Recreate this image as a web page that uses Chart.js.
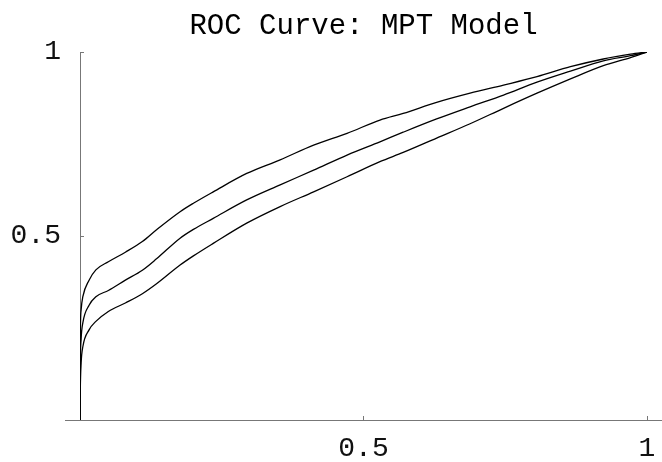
<!DOCTYPE html>
<html>
<head>
<meta charset="utf-8">
<script src="https://cdn.jsdelivr.net/npm/chart.js@4"></script>
<style>
  html, body { margin: 0; padding: 0; background: #fff; }
  canvas { display: block; }
</style>
</head>
<body>
<canvas id="c" width="662" height="462"></canvas>
<script>
// ---- data ----
const titleText = "ROC Curve: MPT Model";
const fpr = [0, 0.0005, 0.002, 0.005, 0.016, 0.028, 0.05, 0.08, 0.11, 0.135, 0.1765, 0.2, 0.235, 0.294, 0.353, 0.412, 0.471, 0.529, 0.570, 0.629, 0.688, 0.747, 0.806, 0.865, 0.923, 0.971, 1];
const tprUpper = [0, 0.22, 0.30, 0.335, 0.380, 0.408, 0.430, 0.456, 0.485, 0.517, 0.566, 0.589, 0.620, 0.670, 0.707, 0.747, 0.779, 0.815, 0.833, 0.863, 0.888, 0.910, 0.933, 0.960, 0.981, 0.994, 1];
const tprMiddle = [0, 0.14, 0.22, 0.264, 0.312, 0.335, 0.352, 0.380, 0.407, 0.438, 0.494, 0.518, 0.548, 0.598, 0.639, 0.679, 0.720, 0.756, 0.782, 0.818, 0.851, 0.883, 0.918, 0.948, 0.976, 0.990, 1];
const tprLower = [0, 0.08, 0.155, 0.199, 0.245, 0.268, 0.295, 0.318, 0.343, 0.370, 0.421, 0.446, 0.480, 0.535, 0.580, 0.620, 0.661, 0.702, 0.727, 0.766, 0.805, 0.847, 0.888, 0.927, 0.963, 0.985, 1];
const xTicks = [0.5, 1];
const yTicks = [0.5, 1];

const toPts = (ys) => fpr.map((x, i) => ({ x: x, y: ys[i] }));

const FONT = "'Liberation Mono', 'Courier New', monospace";
const AXIS_COLOR = '#777777';

const axisExtend = {
  id: 'axisExtend',
  afterDraw(chart) {
    const ctx = chart.ctx;
    const ys = chart.scales.y;
    const y0 = Math.round(ys.getPixelForValue(0)) + 0.5;
    ctx.save();
    ctx.strokeStyle = AXIS_COLOR;
    ctx.lineWidth = 1;
    ctx.beginPath();
    ctx.moveTo(chart.chartArea.left - 15, y0);
    ctx.lineTo(chart.width, y0);
    ctx.stroke();
    ctx.restore();
  }
};

const lineDs = (ys) => ({
  data: toPts(ys),
  showLine: true,
  borderColor: '#000',
  borderWidth: 1.3,
  pointRadius: 0,
  fill: false,
  cubicInterpolationMode: 'monotone'
});

new Chart(document.getElementById('c'), {
  type: 'scatter',
  data: {
    datasets: [lineDs(tprUpper), lineDs(tprMiddle), lineDs(tprLower)]
  },
  options: {
    responsive: false,
    animation: false,
    layout: { padding: { left: 0, right: 15, top: 0, bottom: 0 } },
    plugins: {
      legend: { display: false },
      tooltip: { enabled: false },
      title: {
        display: true,
        text: titleText,
        fullSize: false,
        color: '#000',
        font: { family: FONT, size: 29, weight: 'normal', lineHeight: 1.2 },
        padding: { top: 9, bottom: 8.2 }
      }
    },
    scales: {
      x: {
        type: 'linear',
        min: 0, max: 1,
        afterFit(s) { s.height = 42; s.paddingLeft = 0; s.paddingRight = 0; },
        afterBuildTicks(s) { s.ticks = xTicks.map(v => ({ value: v })); },
        grid: { drawOnChartArea: false, drawTicks: true, tickLength: -4, color: AXIS_COLOR },
        border: { display: true, color: AXIS_COLOR, width: 1 },
        ticks: {
          autoSkip: false,
          maxRotation: 0,
          padding: 16,
          color: '#111',
          font: { family: FONT, size: 28 },
          callback: (v) => String(v)
        }
      },
      y: {
        type: 'linear',
        min: 0, max: 1,
        afterFit(s) { s.width = 80; s.paddingTop = 0; s.paddingBottom = 0; },
        afterBuildTicks(s) { s.ticks = yTicks.map(v => ({ value: v })); },
        grid: { drawOnChartArea: false, drawTicks: true, tickLength: -4, color: AXIS_COLOR },
        border: { display: true, color: AXIS_COLOR, width: 1 },
        ticks: {
          autoSkip: false,
          padding: 23,
          color: '#111',
          font: { family: FONT, size: 28 },
          callback: (v) => String(v)
        }
      }
    }
  },
  plugins: [axisExtend]
});
</script>
</body>
</html>
